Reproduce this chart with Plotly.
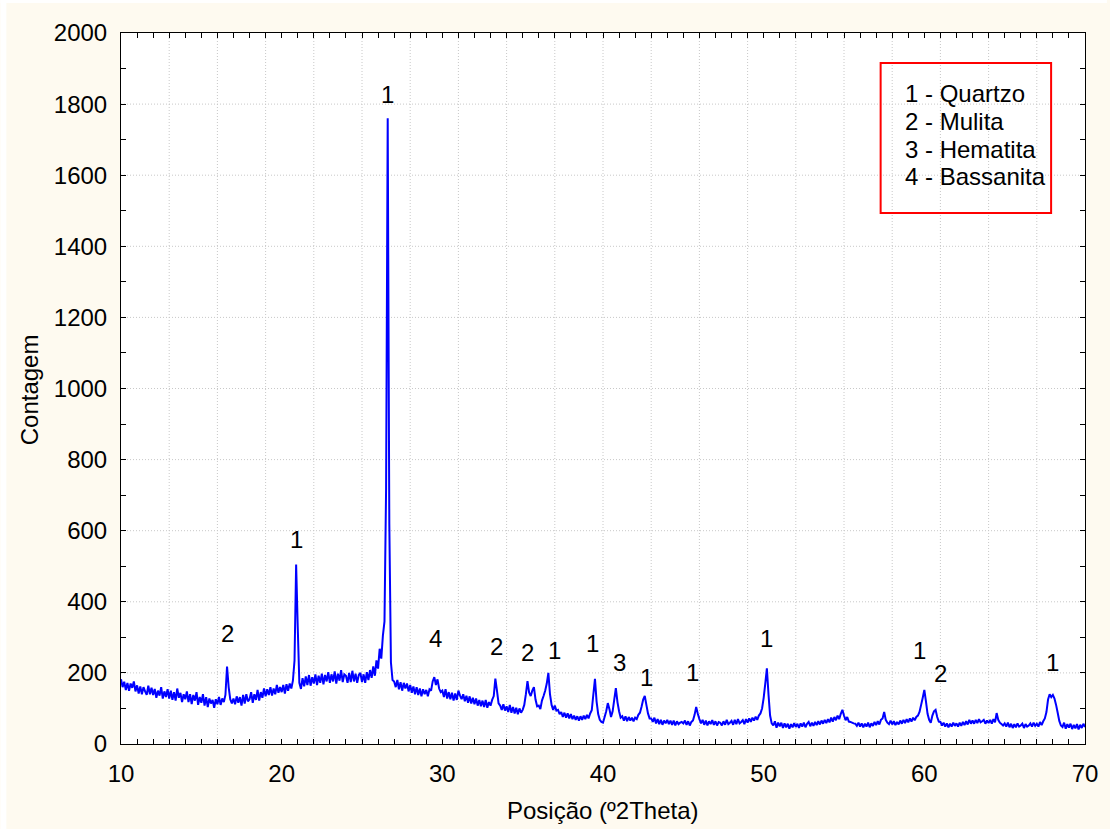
import numpy as np
import plotly.graph_objects as go

# Counts, 0.1 deg step; one row per degree (10.0 .. 69.9), then 70.0
rows = {
    10: [182,160,175,152,172,150,170,158,176,148],
    11: [165,142,162,140,160,148,138,164,140,158],
    12: [138,155,130,150,136,160,128,148,132,154],
    13: [128,150,124,146,122,156,130,144,118,140],
    14: [126,148,118,140,112,138,122,146,110,132],
    15: [116,140,108,132,104,128,114,124,102,126],
    16: [112,132,110,128,118,138,218,160,126,114],
    17: [128,112,134,116,132,108,138,114,140,120],
    18: [126,146,116,140,124,152,122,146,130,156],
    19: [134,154,138,160,136,156,140,166,144,160],
    20: [146,166,142,168,150,170,156,178,235,505],
    21: [330,172,155,185,162,190,166,194,164,188],
    22: [170,196,166,192,172,198,168,194,176,202],
    23: [172,196,176,204,170,198,178,208,174,196],
    24: [192,172,200,174,206,176,198,172,194,200],
    25: [174,196,172,202,180,208,186,218,192,235],
    26: [212,268,240,305,345,720,1760,620,230,180],
    27: [176,160,180,154,174,150,172,156,170,148],
    28: [166,144,162,140,160,138,156,134,154,140],
    29: [152,134,154,150,176,188,166,182,156,146],
    30: [150,132,154,128,146,126,144,122,142,124],
    31: [150,136,126,140,120,136,116,134,114,130],
    32: [112,128,108,124,106,122,104,124,102,118],
    33: [108,124,135,184,150,114,108,96,112,94],
    34: [106,90,110,88,104,86,102,84,100,88],
    35: [96,110,140,177,145,135,150,160,125,106],
    36: [108,98,122,135,150,170,200,140,110,96],
    37: [108,94,96,84,90,76,88,74,86,72],
    38: [84,70,80,68,78,66,78,68,80,70],
    39: [82,72,86,95,140,183,120,84,68,62],
    40: [60,76,92,115,98,76,92,125,157,118],
    41: [92,74,78,66,78,64,76,66,74,64],
    42: [74,70,82,88,105,125,135,110,86,72],
    43: [72,62,74,58,70,56,68,54,66,58],
    44: [68,56,66,54,66,52,64,56,60,62],
    45: [58,66,54,64,52,62,66,82,104,85],
    46: [70,58,68,54,66,52,64,56,67,54],
    47: [64,52,62,60,52,64,54,68,56,60],
    48: [65,54,68,56,70,58,62,67,56,70],
    49: [60,72,62,74,66,77,68,80,86,100],
    50: [130,170,213,140,80,58,52,64,46,60],
    51: [50,60,45,58,47,57,43,56,47,59],
    52: [48,57,45,58,49,60,47,57,62,50],
    53: [60,51,62,53,64,55,66,57,68,59],
    54: [70,61,74,63,76,67,80,70,85,96],
    55: [80,67,76,63,62,60,58,57,51,60],
    56: [49,58,47,57,49,60,47,58,51,62],
    57: [53,64,55,68,72,90,68,60,56,66],
    58: [55,64,53,62,55,66,57,68,59,70],
    59: [61,72,63,74,67,76,80,90,110,130],
    60: [152,120,85,68,60,80,92,96,76,63],
    61: [62,52,60,49,58,47,57,49,60,51],
    62: [58,49,60,51,62,53,64,55,68,57],
    63: [66,57,68,59,70,61,64,68,57,66],
    64: [59,68,57,70,61,87,68,60,56,52],
    65: [58,49,60,47,57,45,56,47,58,49],
    66: [52,57,45,56,49,52,58,49,60,51],
    67: [57,49,62,53,64,72,90,125,140,132],
    68: [138,128,110,88,65,52,48,60,43,56],
    69: [46,57,42,54,44,56,41,54,45,57],
}
last_count = [48]

counts = [v for d in sorted(rows) for v in rows[d]] + last_count
two_theta = np.round(10 + 0.1 * np.arange(len(counts)), 1)

# Peak labels (phase numbers)
label_x = [16.6, 20.9, 26.6, 29.6, 33.4, 35.3, 37.0, 39.35, 41.0, 42.7, 45.6, 50.15, 59.7, 61.0, 67.95]
label_y = [312, 574, 1826, 298, 273, 256, 264, 284, 228, 186, 200, 298, 264, 197, 228]
label_text = ["2", "1", "1", "4", "2", "2", "1", "1", "3", "1", "1", "1", "1", "2", "1"]

legend_lines = ["1 - Quartzo", "2 - Mulita", "3 - Hematita", "4 - Bassanita"]

x_ticks = [10, 20, 30, 40, 50, 60, 70]
y_ticks = [0, 200, 400, 600, 800, 1000, 1200, 1400, 1600, 1800, 2000]
x_grid = list(range(13, 70, 3))      # grid every 3 deg, as in the reference
y_grid = y_ticks[1:-1]

FONT = "Liberation Sans, Arial, sans-serif"
FS = 24

fig = go.Figure()
fig.add_trace(go.Scatter(x=two_theta, y=counts, mode="lines",
                         line=dict(color="#0000FF", width=2, simplify=False),
                         showlegend=False, hoverinfo="skip"))

W, H = 1110, 829
L, R, T, B = 121, 1088, 33, 744
pw, ph = R - L, B - T

def px(xp):
    return (xp - L) / pw

def py(yp):
    return (B - yp) / ph

annotations = []
for xv, yv, t in zip(label_x, label_y, label_text):
    annotations.append(dict(x=xv, y=yv, xref="x", yref="y", text=t, showarrow=False,
                            font=dict(family=FONT, size=FS, color="black"),
                            xanchor="center", yanchor="middle"))
for i, t in enumerate(legend_lines):
    annotations.append(dict(x=px(905), y=py(93.5 + 27.8 * i), xref="paper", yref="paper",
                            text=t, showarrow=False, xanchor="left", yanchor="middle",
                            font=dict(family=FONT, size=FS, color="black")))
annotations.append(dict(x=0.5, y=py(810), xref="paper", yref="paper", text="Posição (º2Theta)",
                        showarrow=False, xanchor="center", yanchor="middle",
                        font=dict(family=FONT, size=FS, color="black")))
annotations.append(dict(x=px(29), y=py(390), xref="paper", yref="paper", text="Contagem",
                        showarrow=False, textangle=-90, xanchor="center", yanchor="middle",
                        font=dict(family=FONT, size=FS, color="black")))

GRID = dict(color="#C8C8C8", width=1, dash="1px,2px")
shapes = []
for g in x_grid:
    shapes.append(dict(type="line", xref="x", yref="paper", x0=g, x1=g, y0=0, y1=1,
                       line=GRID, layer="below"))
for g in y_grid:
    shapes.append(dict(type="line", xref="paper", yref="y", x0=0, x1=1, y0=g, y1=g,
                       line=GRID, layer="below"))
# legend frame
shapes.append(dict(type="rect", xref="paper", yref="paper",
                   x0=px(883), x1=px(1054), y0=py(213), y1=py(63),
                   line=dict(color="#FF0000", width=2), fillcolor="rgba(0,0,0,0)"))
# thin white page edges at left and top
shapes.append(dict(type="rect", xref="paper", yref="paper", x0=px(0), x1=px(6), y0=py(829), y1=py(0),
                   line=dict(width=0), fillcolor="white", layer="below"))
shapes.append(dict(type="rect", xref="paper", yref="paper", x0=px(0), x1=px(1110), y0=py(3), y1=py(0),
                   line=dict(width=0), fillcolor="white", layer="below"))

fig.update_layout(
    width=W, height=H,
    margin=dict(l=L, r=W - R, t=T, b=H - B, pad=0),
    paper_bgcolor="#FEFAF0",
    plot_bgcolor="white",
    font=dict(family=FONT, size=FS, color="black"),
    xaxis=dict(range=[10, 70], tickmode="array", tickvals=x_ticks, ticktext=[str(v) for v in x_ticks],
               showgrid=False, zeroline=False, showline=True, linecolor="black", linewidth=1,
               mirror="allticks", ticks="inside", ticklen=5, tickcolor="black",
               ticklabelstandoff=8,
               minor=dict(tickmode="linear", dtick=1, tick0=10, ticks="inside", ticklen=5,
                          tickcolor="black", showgrid=False),
               tickfont=dict(family=FONT, size=FS, color="black")),
    yaxis=dict(range=[0, 2000], tickmode="array", tickvals=y_ticks, ticktext=[str(v) for v in y_ticks],
               showgrid=False, zeroline=False, showline=True, linecolor="black", linewidth=1,
               mirror="allticks", ticks="inside", ticklen=5, tickcolor="black",
               ticklabelstandoff=8,
               minor=dict(tickmode="linear", dtick=100, tick0=0, ticks="inside", ticklen=5,
                          tickcolor="black", showgrid=False),
               tickfont=dict(family=FONT, size=FS, color="black")),
    annotations=annotations,
    shapes=shapes,
)

fig.write_html("out.html")
